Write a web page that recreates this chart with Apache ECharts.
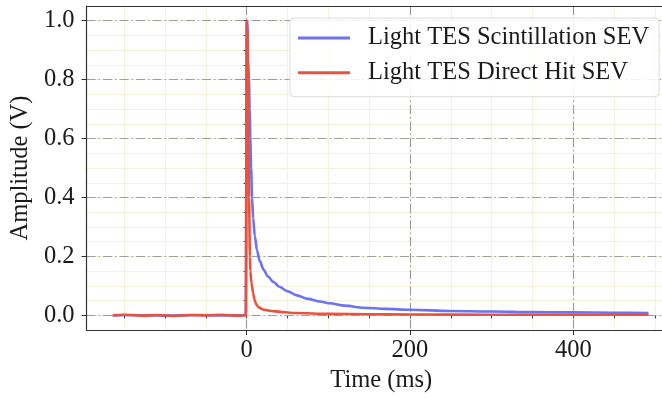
<!DOCTYPE html>
<html>
<head>
<meta charset="utf-8">
<script src="https://cdn.jsdelivr.net/npm/echarts@6/dist/echarts.min.js"></script>
<style>
html,body{margin:0;padding:0;background:#fff;}
#chart{width:662px;height:398px;}
</style>
</head>
<body>
<div id="chart"></div>
<script>
// ---- data ----
const seriesNames = ['Light TES Scintillation SEV', 'Light TES Direct Hit SEV'];

const blueTime = [-164, -140, -120, -100, -80, -60, -40, -20, -5, -1, 0.5, 1.0, 1.7, 2.9, 3.7, 4.5, 5.5, 6.6, 8, 10, 12.7, 16, 20.8, 26, 33, 40, 50, 61.6, 75, 90, 102, 120, 143, 170, 200, 250, 300, 350, 400, 450, 492];
const blueAmp  = [0.000, 0.001, 0.000, -0.001, 0.000, 0.001, 0.000, 0.000, 0.000, 0.002, 1.000, 0.990, 0.870, 0.800, 0.700, 0.600, 0.500, 0.400, 0.330, 0.270, 0.220, 0.185, 0.155, 0.132, 0.113, 0.097, 0.082, 0.068, 0.056, 0.047, 0.041, 0.033, 0.026, 0.022, 0.019, 0.015, 0.013, 0.011, 0.010, 0.009, 0.008];

const redTime = [-164, -150, -130, -110, -90, -70, -50, -30, -15, -1, 0, 0.8, 1.5, 2.2, 3, 4, 4.5, 6, 8, 10, 12, 15, 20, 30, 41, 60, 100, 150, 200, 300, 400, 492];
const redAmp  = [0.000, 0.002, -0.001, 0.001, -0.002, 0.001, 0.000, 0.002, -0.001, 0.000, 1.000, 0.980, 0.800, 0.600, 0.400, 0.200, 0.150, 0.110, 0.075, 0.050, 0.036, 0.027, 0.020, 0.015, 0.012, 0.008, 0.005, 0.004, 0.003, 0.002, 0.002, 0.002];

// axis extents and tick values
const xMin = -196, xMax = 508.5;
const yMin = -0.05, yMax = 1.05;
const xMajorTicks = [0, 200, 400];
const xMinorTicks = [-150, -100, -50, 0, 50, 100, 150, 200, 250, 300, 350, 400, 450, 500];
const yMajorTicks = [0, 0.2, 0.4, 0.6, 0.8, 1.0];
const yMinorTicks = [-0.05, 0, 0.05, 0.1, 0.15, 0.2, 0.25, 0.3, 0.35, 0.4, 0.45, 0.5, 0.55, 0.6, 0.65, 0.7, 0.75, 0.8, 0.85, 0.9, 0.95, 1.0, 1.05];

// ---- chart ----
const FONT = 'Liberation Serif';
const FS = 24.5;
const TXT = '#1a1a1a';
const SPINE = '#333333';
const MAJOR_GRID = '#9e9e9e';
const MINOR_GRID = '#f3f1dc';

const chart = echarts.init(document.getElementById('chart'), null, {renderer: 'canvas'});

function pairs(t, a) { return t.map((x, i) => [x, a[i]]); }

const option = {
  animation: false,
  backgroundColor: '#ffffff',
  grid: {left: 86, top: 6, right: 0, bottom: 66.3, containLabel: false},
  legend: {
    orient: 'vertical',
    left: 290, top: 18,
    data: seriesNames,
    icon: 'rect',
    itemWidth: 52, itemHeight: 3,
    itemGap: 8.7,
    padding: [7, 10, 11, 8],
    backgroundColor: 'rgba(255,255,255,0.85)',
    borderColor: '#dcdcdc', borderWidth: 1, borderRadius: 4,
    textStyle: {fontFamily: FONT, fontSize: FS, color: TXT, lineHeight: 26, padding: [0, 0, 0, 13]}
  },
  xAxis: [
    {
      type: 'value', position: 'bottom', min: xMin, max: xMax,
      name: 'Time (ms)', nameLocation: 'middle', nameGap: 36,
      nameTextStyle: {fontFamily: FONT, fontSize: FS, color: TXT, padding: [0, 0, 0, 14]},
      axisLine: {show: true, onZero: false, lineStyle: {color: SPINE, width: 1.2}},
      axisTick: {show: true, length: 5, customValues: xMajorTicks, lineStyle: {color: SPINE, width: 1}},
      axisLabel: {show: true, margin: 8, customValues: xMajorTicks, formatter: v => String(Math.round(v)), fontFamily: FONT, fontSize: FS, color: TXT},
      splitLine: {show: true, lineStyle: {color: MAJOR_GRID, width: 1.2, type: [9, 3, 1.5, 3]}},
      z: 2
    },
    {
      type: 'value', position: 'bottom', min: xMin, max: xMax,
      axisLine: {show: false},
      axisTick: {show: true, length: 3, customValues: xMinorTicks, lineStyle: {color: SPINE, width: 1}},
      axisLabel: {show: false},
      splitLine: {show: true, lineStyle: {color: MINOR_GRID, width: 1}},
      z: 1
    },
    {
      type: 'value', position: 'top', min: xMin, max: xMax,
      axisLine: {show: true, onZero: false, lineStyle: {color: SPINE, width: 1.2}},
      axisTick: {show: false}, axisLabel: {show: false}, splitLine: {show: false},
      z: 3
    }
  ],
  yAxis: [
    {
      type: 'value', position: 'left', min: yMin, max: yMax,
      name: 'Amplitude (V)', nameLocation: 'middle', nameGap: 50,
      nameTextStyle: {fontFamily: FONT, fontSize: FS, color: TXT},
      axisLine: {show: true, onZero: false, lineStyle: {color: SPINE, width: 1.2}},
      axisTick: {show: true, length: 5, customValues: yMajorTicks, lineStyle: {color: SPINE, width: 1}},
      axisLabel: {show: true, margin: 12, customValues: yMajorTicks, formatter: v => v.toFixed(1), fontFamily: FONT, fontSize: FS, color: TXT},
      splitLine: {show: true, lineStyle: {color: MAJOR_GRID, width: 1.2, type: [9, 3, 1.5, 3]}},
      z: 2
    },
    {
      type: 'value', position: 'left', min: yMin, max: yMax,
      axisLine: {show: false},
      axisTick: {show: true, length: 3, customValues: yMinorTicks, lineStyle: {color: SPINE, width: 1}},
      axisLabel: {show: false},
      splitLine: {show: true, lineStyle: {color: MINOR_GRID, width: 1}},
      z: 1
    }
  ],
  series: [
    {
      name: seriesNames[0], type: 'line', xAxisIndex: 0, yAxisIndex: 0,
      data: pairs(blueTime, blueAmp),
      showSymbol: false, symbol: 'none', smooth: 0.3, smoothMonotone: 'x',
      lineStyle: {color: '#6b73f2', width: 2.6},
      itemStyle: {color: '#6b73f2'},
      z: 5
    },
    {
      name: seriesNames[1], type: 'line', xAxisIndex: 0, yAxisIndex: 0,
      data: pairs(redTime, redAmp),
      showSymbol: false, symbol: 'none', smooth: 0.3, smoothMonotone: 'x',
      lineStyle: {color: '#e8533e', width: 2.6},
      itemStyle: {color: '#e8533e'},
      z: 6
    }
  ]
};
chart.setOption(option);
</script>
</body>
</html>
